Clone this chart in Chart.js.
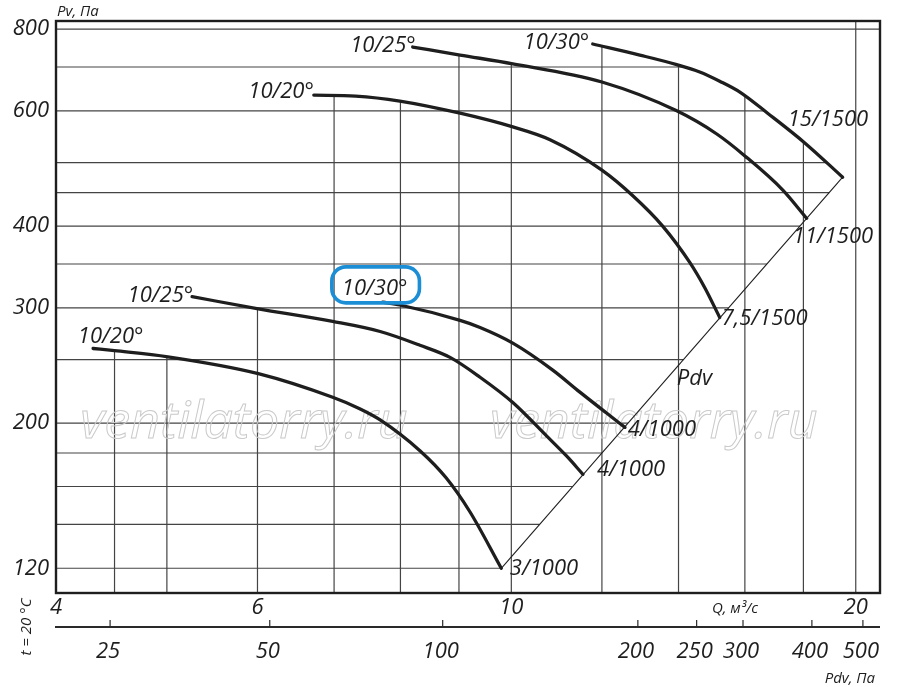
<!DOCTYPE html>
<html>
<head>
<meta charset="utf-8">
<script src="https://cdn.jsdelivr.net/npm/chart.js@4.4.1/dist/chart.umd.min.js"></script>
<style>
  html, body { margin: 0; padding: 0; background: #fff; }
  #wrap { width: 900px; height: 687px; }
</style>
</head>
<body>
<div id="wrap"><canvas id="chart" width="900" height="687"></canvas></div>
<script>
// curves: Q, m3/s against Pv, Pa
const q3_20 = [4.31, 4.50, 5.01, 6.01, 6.98, 7.37, 7.68, 8.32, 8.77, 9.20, 9.80];
const pv3_20 = [260, 258, 252.5, 238, 219, 210.4, 202.3, 181.5, 165, 146.4, 120];
const q4_25 = [5.26, 6.01, 6.98, 7.68, 8.32, 8.84, 9.39, 10.03, 10.74, 11.18, 11.55];
const pv4_25 = [312, 299, 286, 276, 263, 252, 235, 215, 191, 178, 167];
const q4_30 = [7.72, 7.99, 9.02, 9.39, 10.03, 10.87, 11.48, 12.12, 12.57];
const pv4_30 = [306, 303, 287, 280, 265, 241, 223, 207, 197];
const q75_20 = [6.72, 7.31, 7.99, 9.02, 10.03, 10.81, 12.00, 12.77, 13.56, 14.32, 14.76, 15.21];
const pv75_20 = [634, 632, 621, 595, 567, 542, 487, 445, 400, 352, 322, 290];
const q11_25 = [8.20, 9.02, 10.03, 12.00, 13.95, 15.12, 16.00, 17.27, 18.12];
const pv11_25 = [751, 730, 708, 664, 600, 553, 512, 454, 411];
const q15_30 = [11.78, 12.95, 13.95, 14.61, 15.21, 15.84, 16.75, 18.05, 19.48];
const pv15_30 = [759, 730, 706, 688, 666, 641, 595, 536, 475];
// Pdv line through the curve ends
const pdvLineQ = [9.80, 19.48];
const pdvLinePv = [120, 475];

// axes
const qGrid = [4.5, 5, 6, 7, 8, 9, 10, 12, 14, 16, 18, 20];
const qLabels = [4, 6, 10, 20];
const pvGrid = [120, 140, 160, 180, 200, 250, 300, 350, 400, 450, 500, 600, 700, 800];
const pvLabels = [120, 200, 300, 400, 600, 800];
const pdvTicks = [25, 50, 100, 200, 250, 300, 400, 500];
const pdvTickQ = [4.46, 6.15, 8.71, 12.9, 14.52, 15.94, 18.31, 20.29];

// curve captions (left / baseline, in Q and Pv)
const captions = ["10/20°", "10/25°", "10/30°", "10/20°", "10/25°", "10/30°",
  "3/1000", "4/1000", "4/1000", "7,5/1500", "11/1500", "15/1500", "Pdv"];
const captionQ = [4.18, 4.62, 7.11, 5.89, 7.23, 10.25, 9.97, 11.88, 12.64, 15.27, 17.62, 17.44, 13.95];
const captionPv = [265, 306, 314, 628, 738, 746, 117, 166, 191, 282, 377, 569, 229];
const boxedCaption = 2;

const markText = "ventilatorry.ru";
const markQ = [4.20, 9.58];
const markPv = [190, 190];

const FONT = '"Open Sans", "DejaVu Sans", sans-serif';
const INK = "#1e1e1e";

function pairs(qs, ps) {
  return qs.map((q, i) => ({ x: q, y: ps[i] }));
}

function curve(qs, ps) {
  return {
    data: pairs(qs, ps),
    borderColor: INK,
    borderWidth: 3.3,
    borderCapStyle: "round",
    pointRadius: 0,
    cubicInterpolationMode: "monotone",
    fill: false,
  };
}

// sampled pixel paths of every line, used to stop grid lines at the curves
function curvePaths(chart) {
  return chart.data.datasets.map((ds, i) => {
    const meta = chart.getDatasetMeta(i);
    if (meta.dataset && meta.dataset.updateControlPoints) {
      meta.dataset.updateControlPoints(chart.chartArea, "x");
    }
    const pts = meta.data;
    const out = [];
    for (let k = 0; k < pts.length; k++) {
      const p = pts[k];
      const q = pts[k - 1];
      if (k === 0 || q.cp2x === undefined || p.cp1x === undefined) {
        out.push([p.x, p.y]);
        continue;
      }
      for (let s = 1; s <= 16; s++) {
        const t = s / 16, u = 1 - t;
        out.push([
          u * u * u * q.x + 3 * u * u * t * q.cp2x + 3 * u * t * t * p.cp1x + t * t * t * p.x,
          u * u * u * q.y + 3 * u * u * t * q.cp2y + 3 * u * t * t * p.cp1y + t * t * t * p.y,
        ]);
      }
    }
    return out;
  });
}

const gridPlugin = {
  id: "clippedGrid",
  beforeDatasetsDraw(chart) {
    const { ctx, chartArea: a, scales } = chart;
    const paths = curvePaths(chart);
    ctx.save();
    ctx.strokeStyle = "#444";
    ctx.lineWidth = 1.2;

    pvGrid.forEach((v) => {
      const py = scales.y.getPixelForValue(v);
      let hit = -Infinity;
      paths.forEach((path) => {
        for (let i = 1; i < path.length; i++) {
          const [x0, y0] = path[i - 1];
          const [x1, y1] = path[i];
          const lo = Math.min(y0, y1) - 0.6, hi = Math.max(y0, y1) + 0.6;
          if (py < lo || py > hi) continue;
          const t = y1 === y0 ? 0 : Math.max(0, Math.min(1, (py - y0) / (y1 - y0)));
          hit = Math.max(hit, x0 + t * (x1 - x0));
        }
      });
      ctx.beginPath();
      ctx.moveTo(a.left, py);
      ctx.lineTo(hit > -Infinity ? hit : a.right, py);
      ctx.stroke();
    });

    qGrid.forEach((v) => {
      const px = scales.x.getPixelForValue(v);
      let hit = Infinity;
      paths.forEach((path) => {
        for (let i = 1; i < path.length; i++) {
          const [x0, y0] = path[i - 1];
          const [x1, y1] = path[i];
          const lo = Math.min(x0, x1) - 0.6, hi = Math.max(x0, x1) + 0.6;
          if (px < lo || px > hi) continue;
          const t = x1 === x0 ? 0 : Math.max(0, Math.min(1, (px - x0) / (x1 - x0)));
          hit = Math.min(hit, y0 + t * (y1 - y0));
        }
      });
      ctx.beginPath();
      ctx.moveTo(px, a.bottom);
      ctx.lineTo(px, hit < Infinity ? hit : a.top);
      ctx.stroke();
    });

    // watermark
    ctx.font = `italic 52px ${FONT}`;
    ctx.strokeStyle = "#cacaca";
    ctx.lineWidth = 1;
    ctx.textAlign = "left";
    ctx.textBaseline = "alphabetic";
    markQ.forEach((q, i) => {
      ctx.strokeText(markText, scales.x.getPixelForValue(q), scales.y.getPixelForValue(markPv[i]));
    });
    ctx.restore();
  },
  afterDraw(chart) {
    const { ctx, chartArea: a, scales } = chart;
    ctx.save();

    // frame
    ctx.strokeStyle = INK;
    ctx.lineWidth = 2.4;
    ctx.strokeRect(a.left, a.top, a.right - a.left, a.bottom - a.top);

    // captions
    ctx.fillStyle = INK;
    ctx.font = `italic 22px ${FONT}`;
    ctx.textAlign = "left";
    ctx.textBaseline = "alphabetic";
    captions.forEach((txt, i) => {
      const px = scales.x.getPixelForValue(captionQ[i]);
      const py = scales.y.getPixelForValue(captionPv[i]);
      ctx.fillText(txt, px, py);
      if (i === boxedCaption) {
        const w = ctx.measureText(txt).width;
        ctx.save();
        ctx.strokeStyle = "#1b8ed6";
        ctx.lineWidth = 3.6;
        ctx.beginPath();
        ctx.roundRect(px - 10, py - 28, w + 22, 36, 14);
        ctx.stroke();
        ctx.restore();
      }
    });

    // Pdv axis below the Q axis
    const axisY = a.bottom + 34;
    ctx.strokeStyle = "#2a2a2a";
    ctx.lineWidth = 2;
    ctx.beginPath();
    ctx.moveTo(a.left - 1, axisY);
    ctx.lineTo(a.right, axisY);
    ctx.stroke();
    ctx.lineWidth = 1.2;
    ctx.textAlign = "center";
    pdvTicks.forEach((t, i) => {
      const px = scales.x.getPixelForValue(pdvTickQ[i]);
      ctx.beginPath();
      ctx.moveTo(px, axisY - 7);
      ctx.lineTo(px, axisY);
      ctx.stroke();
      ctx.fillText(String(t), px - 2, axisY + 31);
    });

    // axis titles
    ctx.font = `italic 15px ${FONT}`;
    ctx.textAlign = "left";
    ctx.fillText("Pv, Па", a.left + 1, a.top - 5);
    ctx.textAlign = "right";
    ctx.fillText("Q, м³/с", a.left + 702, a.bottom + 20);
    ctx.fillText("Pdv, Па", a.left + 819, a.bottom + 90);
    ctx.translate(27, a.bottom + 34);
    ctx.rotate(-Math.PI / 2);
    ctx.textAlign = "center";
    ctx.textBaseline = "middle";
    ctx.fillText("t = 20 °C", 0, 0);
    ctx.restore();
  },
};

const tickFont = { family: FONT, size: 22, style: "italic" };

new Chart(document.getElementById("chart"), {
  type: "line",
  data: {
    datasets: [
      curve(q3_20, pv3_20),
      curve(q4_25, pv4_25),
      curve(q4_30, pv4_30),
      curve(q75_20, pv75_20),
      curve(q11_25, pv11_25),
      curve(q15_30, pv15_30),
      {
        data: pairs(pdvLineQ, pdvLinePv),
        borderColor: INK,
        borderWidth: 1.1,
        pointRadius: 0,
        tension: 0,
        fill: false,
      },
    ],
  },
  options: {
    responsive: false,
    animation: false,
    events: [],
    layout: { padding: { top: 21, right: 20, left: 0, bottom: 0 } },
    plugins: { legend: { display: false }, tooltip: { enabled: false } },
    scales: {
      x: {
        type: "logarithmic",
        min: 4,
        max: 21,
        afterBuildTicks: (s) => {
          s.ticks = [4].concat(qGrid).map((v) => ({ value: v }));
        },
        afterFit: (s) => {
          s.height = 94;
        },
        grid: { display: false, drawTicks: false },
        border: { display: false },
        ticks: {
          autoSkip: false,
          maxRotation: 0,
          padding: 2,
          color: INK,
          font: tickFont,
          callback: (v) => (qLabels.includes(v) ? String(v) : ""),
        },
      },
      y: {
        type: "logarithmic",
        min: 110,
        max: 823,
        afterBuildTicks: (s) => {
          s.ticks = pvGrid.map((v) => ({ value: v }));
        },
        afterFit: (s) => {
          s.width = 56;
        },
        grid: { display: false, drawTicks: false },
        border: { display: false },
        ticks: {
          autoSkip: false,
          padding: 7,
          color: INK,
          font: tickFont,
          callback: (v) => (pvLabels.includes(v) ? String(v) : ""),
        },
      },
    },
  },
  plugins: [gridPlugin],
});
</script>
</body>
</html>
